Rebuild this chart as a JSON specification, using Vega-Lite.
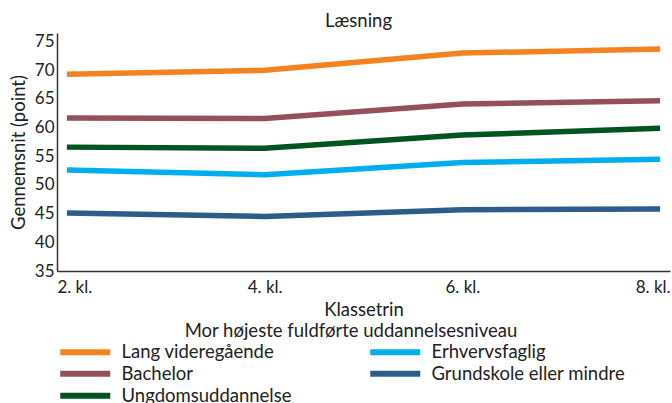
{
  "$schema": "https://vega.github.io/schema/vega-lite/v6.json",
  "width": 613,
  "height": 238,
  "autosize": {"type": "none"},
  "padding": {"left": 57, "top": 33, "right": 2, "bottom": 132},
  "background": "white",
  "config": {
    "font": "Lato",
    "view": {"stroke": null},
    "axis": {"labelFont": "Lato", "titleFont": "Lato", "labelColor": "#222", "titleColor": "#222", "titleFontWeight": "normal", "labelFontSize": 17, "titleFontSize": 18.5, "domainColor": "#333", "domainWidth": 1.5, "ticks": false, "grid": false},
    "legend": {"labelFont": "Lato", "titleFont": "Lato"}
  },
  "title": {"text": "Læsning", "fontSize": 18.5, "fontWeight": "normal", "color": "#222", "anchor": "middle", "frame": "group", "offset": 2, "font": "Lato", "dx": -5},
  "data": {"values": [
    {"klasse": "2. kl.", "niveau": "Lang videregående", "v": 69.3},
    {"klasse": "4. kl.", "niveau": "Lang videregående", "v": 70.0},
    {"klasse": "6. kl.", "niveau": "Lang videregående", "v": 73.0},
    {"klasse": "8. kl.", "niveau": "Lang videregående", "v": 73.7},
    {"klasse": "2. kl.", "niveau": "Bachelor", "v": 61.7},
    {"klasse": "4. kl.", "niveau": "Bachelor", "v": 61.6},
    {"klasse": "6. kl.", "niveau": "Bachelor", "v": 64.1},
    {"klasse": "8. kl.", "niveau": "Bachelor", "v": 64.7},
    {"klasse": "2. kl.", "niveau": "Ungdomsuddannelse", "v": 56.6},
    {"klasse": "4. kl.", "niveau": "Ungdomsuddannelse", "v": 56.4},
    {"klasse": "6. kl.", "niveau": "Ungdomsuddannelse", "v": 58.7},
    {"klasse": "8. kl.", "niveau": "Ungdomsuddannelse", "v": 59.9},
    {"klasse": "2. kl.", "niveau": "Erhvervsfaglig", "v": 52.6},
    {"klasse": "4. kl.", "niveau": "Erhvervsfaglig", "v": 51.8},
    {"klasse": "6. kl.", "niveau": "Erhvervsfaglig", "v": 53.9},
    {"klasse": "8. kl.", "niveau": "Erhvervsfaglig", "v": 54.5},
    {"klasse": "2. kl.", "niveau": "Grundskole eller mindre", "v": 45.1},
    {"klasse": "4. kl.", "niveau": "Grundskole eller mindre", "v": 44.5},
    {"klasse": "6. kl.", "niveau": "Grundskole eller mindre", "v": 45.7},
    {"klasse": "8. kl.", "niveau": "Grundskole eller mindre", "v": 45.8}
  ]},
  "mark": {"type": "line", "strokeWidth": 5.5},
  "encoding": {
    "x": {"field": "klasse", "type": "ordinal", "scale": {"type": "point", "padding": 0.05},
      "axis": {"title": "Klassetrin", "labelAngle": 0, "labelPadding": 8, "titlePadding": 5, "labelFlush": 15, "labelFlushOffset": 10}},
    "y": {"field": "v", "type": "quantitative", "scale": {"domain": [35, 76.5], "nice": false, "zero": false},
      "axis": {"title": "Gennemsnit (point)", "values": [35, 40, 45, 50, 55, 60, 65, 70, 75], "labelPadding": 3, "titlePadding": 6}},
    "color": {"field": "niveau", "type": "nominal",
      "sort": ["Lang videregående", "Erhvervsfaglig", "Bachelor", "Grundskole eller mindre", "Ungdomsuddannelse"],
      "scale": {"domain": ["Lang videregående", "Erhvervsfaglig", "Bachelor", "Grundskole eller mindre", "Ungdomsuddannelse"],
        "range": ["#F58220", "#00AEEF", "#94505A", "#2B5C8A", "#00541F"]},
      "legend": {"title": "Mor højeste fuldførte uddannelsesniveau", "orient": "none", "legendX": 19, "legendY": 289,
        "columns": 2, "direction": "horizontal", "titleAnchor": "middle", "titleFontSize": 18.5, "titleFontWeight": "normal", "titleColor": "#222", "titleLimit": 600,
        "labelFontSize": 18.5, "labelColor": "#222", "symbolType": "M-5,0H5", "symbolSize": 100, "symbolStrokeWidth": 6,
        "rowPadding": -3.5, "columnPadding": 66, "labelOffset": 27, "titlePadding": 2, "labelLimit": 300}}
  }
}
